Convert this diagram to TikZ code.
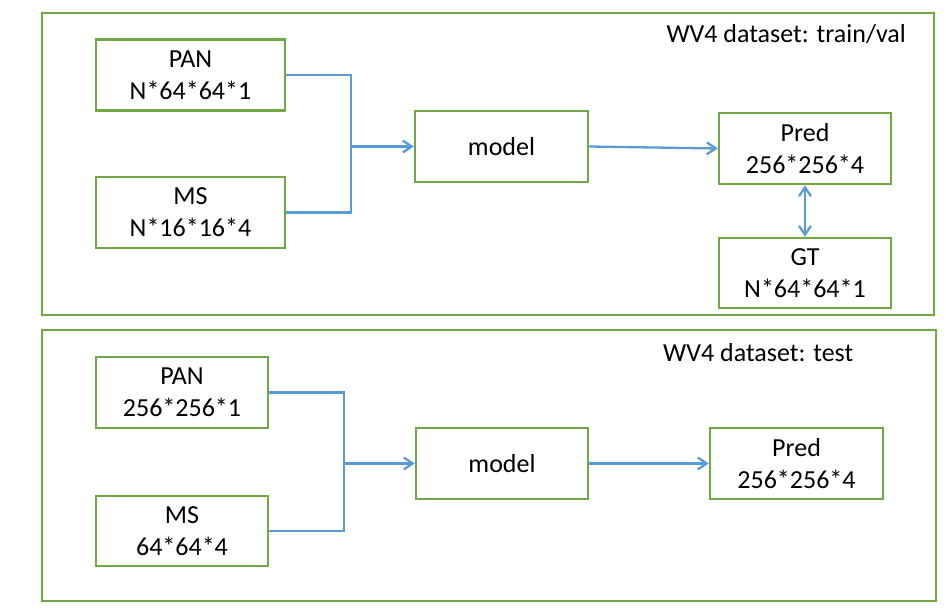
\documentclass[tikz,border=0pt]{standalone}
\usepackage{fontspec}
\setmainfont{Carlito}
\usetikzlibrary{arrows.meta}

\definecolor{boxgreen}{RGB}{112,168,70}
\definecolor{lineblue}{RGB}{91,155,213}

\tikzset{
  databox/.style={draw=boxgreen, line width=2.3pt, align=center,
    minimum width=#1, minimum height=71pt, inner sep=0pt,
    font=\fontsize{26}{32}\selectfont},
  databox/.default=172pt,
  frame/.style={draw=boxgreen, line width=2.3pt},
  link/.style={draw=lineblue, line width=2.3pt},
  flow/.style={link, -{Straight Barb[length=9pt,width=12pt,line width=2.3pt]}},
  both/.style={link, {Straight Barb[length=9pt,width=12pt,line width=2.3pt]}-{Straight Barb[length=9pt,width=12pt,line width=2.3pt]}},
  caption/.style={font=\fontsize{26}{32}\selectfont, inner sep=0pt}
}

\begin{document}
\begin{tikzpicture}[x=1pt, y=-1pt]
\useasboundingbox (0,0) rectangle (946,610);

% train/val
\draw[frame] (42,13) rectangle (934,315);
\node[caption, anchor=base east] (title1) at (906,43) {WV4 dataset: train/val};
\node[databox=189pt] (pan1) at (190.5,75) {PAN\\N*64*64*1};
\node[databox=189pt] (ms1) at (190.5,212.5) {MS\\N*16*16*4};
\node[databox=173pt] (model1) at (501.5,146.5) {model};
\node[databox] (pred1) at (805,148.5) {Pred\\256*256*4};
\node[databox, minimum height=70pt] (gt1) at (805,273) {GT\\N*64*64*1};
\coordinate (j1) at (351,146.5);
\draw[link] (pan1.east) -| (j1) |- (ms1.east);
\draw[flow] (j1) -- (model1.west);
\draw[flow] (model1.east) -- (pred1.west);
\draw[both] (pred1.south) -- (gt1.north);

% test
\draw[frame] (42,330) rectangle (936,601);
\node[caption, anchor=base west] (title2) at (663,361) {WV4 dataset: test};
\node[databox] (pan2) at (182,392.5) {PAN\\256*256*1};
\node[databox, minimum height=70pt] (ms2) at (182,531) {MS\\64*64*4};
\node[databox] (model2) at (502,463.5) {model};
\node[databox=173pt] (pred2) at (796.5,463.5) {Pred\\256*256*4};
\coordinate (j2) at (344,463.5);
\draw[link] (pan2.east) -| (j2) |- (ms2.east);
\draw[flow] (j2) -- (model2.west);
\draw[flow] (model2.east) -- (pred2.west);
\end{tikzpicture}
\end{document}
